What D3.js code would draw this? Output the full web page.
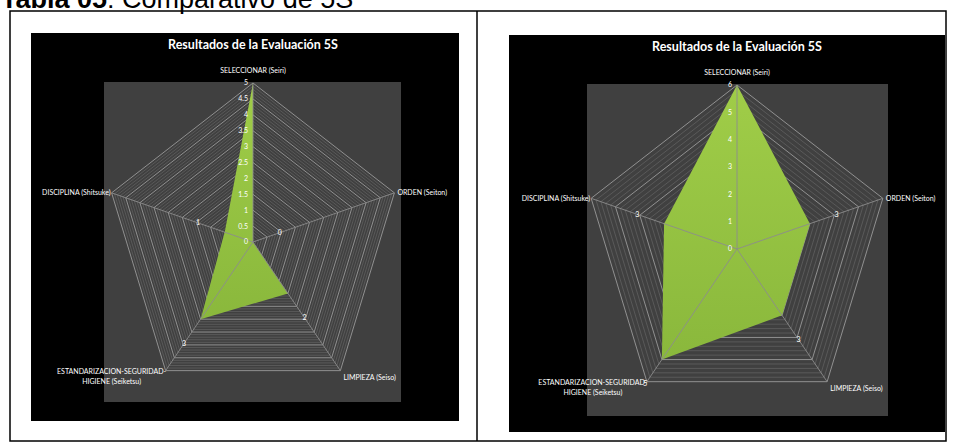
<!DOCTYPE html>
<html>
<head>
<meta charset="utf-8">
<script src="https://cdn.jsdelivr.net/npm/d3@7"></script>
<style>
  html, body { margin: 0; padding: 0; background: #ffffff; }
  svg { display: block; }
</style>
</head>
<body>
<svg id="page" width="954" height="446"></svg>
<script>
// Five 5S categories, clockwise from the top spoke
const categories = [
  "SELECCIONAR (Seiri)",
  "ORDEN (Seiton)",
  "LIMPIEZA (Seiso)",
  "ESTANDARIZACION-SEGURIDAD-HIGIENE (Seiketsu)",
  "DISCIPLINA (Shitsuke)"
];
// Category labels as drawn (line breaks)
const categoryLines = [
  ["SELECCIONAR (Seiri)"],
  ["ORDEN (Seiton)"],
  ["LIMPIEZA (Seiso)"],
  ["ESTANDARIZACION-SEGURIDAD-", "HIGIENE (Seiketsu)"],
  ["DISCIPLINA (Shitsuke)"]
];

// Scores of the first evaluation and of the second one
const valuesFirst = [5, 0, 2, 3, 1];
const valuesSecond = [6, 3, 3, 5, 3];

// Radial axis tick labels
const ticksFirst = [0, 0.5, 1, 1.5, 2, 2.5, 3, 3.5, 4, 4.5, 5];
const ticksSecond = [0, 1, 2, 3, 4, 5, 6];

const chartTitle = "Resultados de la Evaluación 5S";
const captionBold = "Tabla 05";
const captionRest = ": Comparativo de 5S";

const svg = d3.select("#page");
const smallFont = "Lato, 'Open Sans', sans-serif";

// Caption above the table
const cap = svg.append("text")
  .attr("x", 1).attr("y", 8)
  .attr("font-family", "'Liberation Sans', Arial, sans-serif")
  .attr("font-size", 27)
  .attr("fill", "#000");
cap.append("tspan").attr("font-weight", "bold").text(captionBold);
cap.append("tspan").text(captionRest);

// Table frame with two cells
const table = svg.append("g").attr("fill", "none").attr("stroke", "#000").attr("stroke-width", 1.5);
table.append("rect").attr("x", 10).attr("y", 11).attr("width", 936).attr("height", 430);
table.append("line").attr("x1", 477).attr("x2", 477).attr("y1", 11).attr("y2", 441);

// Green fill gradient
const defs = svg.append("defs");
const grad = defs.append("linearGradient").attr("id", "greenFill")
  .attr("x1", 0).attr("y1", 0).attr("x2", 0).attr("y2", 1);
grad.append("stop").attr("offset", "0%").attr("stop-color", "#a0cd48");
grad.append("stop").attr("offset", "100%").attr("stop-color", "#8ab83c");

function drawRadar(cfg) {
  const g = svg.append("g");
  const n = categories.length;
  const maxV = d3.max(cfg.ticks);

  // chart background and plot area
  g.append("rect").attr("x", cfg.box[0]).attr("y", cfg.box[1])
    .attr("width", cfg.box[2]).attr("height", cfg.box[3]).attr("fill", "#000");
  g.append("rect").attr("x", cfg.plot[0]).attr("y", cfg.plot[1])
    .attr("width", cfg.plot[2]).attr("height", cfg.plot[3]).attr("fill", "#404040");

  // title
  g.append("text")
    .attr("x", cfg.cx).attr("y", cfg.box[1] + 16)
    .attr("text-anchor", "middle")
    .attr("font-family", smallFont)
    .attr("font-weight", "bold")
    .attr("font-size", 12.5)
    .attr("fill", "#fff")
    .text(chartTitle);

  const r = d3.scaleLinear().domain([0, maxV]).range([0, cfg.radius]);
  const angle = d3.scalePoint().domain(d3.range(n + 1)).range([0, 2 * Math.PI]);
  const point = (i, v) => {
    const a = angle(i % n);
    return [cfg.cx + r(v) * Math.sin(a) * cfg.sx, cfg.cy - r(v) * Math.cos(a)];
  };
  const line = d3.line();

  // minor and major gridlines
  const minorLevels = d3.range(0, maxV + 1e-9, cfg.minor).filter(v => v > 0);
  const majorSet = new Set(cfg.ticks.map(t => t.toFixed(3)));
  minorLevels.filter(v => !majorSet.has(v.toFixed(3))).forEach(v => {
    g.append("path")
      .attr("d", line(d3.range(n + 1).map(i => point(i, v))))
      .attr("fill", "none").attr("stroke", "#606060").attr("stroke-width", 0.8);
  });
  cfg.ticks.filter(v => v > 0).forEach(v => {
    g.append("path")
      .attr("d", line(d3.range(n + 1).map(i => point(i, v))))
      .attr("fill", "none").attr("stroke", "#9a9a9a").attr("stroke-width", 0.9);
  });

  // filled series
  g.append("path")
    .attr("d", line(cfg.values.map((v, i) => point(i, v))) + "Z")
    .attr("fill", "url(#greenFill)");

  // spokes
  d3.range(n).forEach(i => {
    const [x, y] = point(i, maxV);
    g.append("line").attr("x1", cfg.cx).attr("y1", cfg.cy).attr("x2", x).attr("y2", y)
      .attr("stroke", "#8c8c8c").attr("stroke-width", 0.9);
  });

  // radial tick labels along the top spoke
  g.selectAll(null).data(cfg.ticks).join("text")
    .attr("x", cfg.cx - 5)
    .attr("y", d => point(0, d)[1])
    .attr("dy", "0.35em")
    .attr("text-anchor", "end")
    .attr("font-family", smallFont)
    .attr("font-size", 7)
    .attr("fill", "#fff")
    .text(d => d);

  // category labels
  const placement = [
    { anchor: "middle", dx: 0, dy: -12 },
    { anchor: "start", dx: 3, dy: 0 },
    { anchor: "start", dx: 3, dy: 7 },
    { anchor: "middle", dx: -54, dy: 1 },
    { anchor: "end", dx: -1, dy: 0 }
  ];
  categoryLines.forEach((lines, i) => {
    const [x, y] = point(i, maxV);
    const p = placement[i];
    lines.forEach((t, k) => {
      g.append("text")
        .attr("x", x + p.dx).attr("y", y + p.dy + k * 10)
        .attr("dy", "0.35em")
        .attr("text-anchor", p.anchor)
        .attr("font-family", smallFont)
        .attr("font-size", 7)
        .attr("fill", "#fff")
        .text(t);
    });
  });

  // data labels, set a little beyond each point along its spoke
  cfg.values.forEach((v, i) => {
    if (v >= maxV) return;
    const a = angle(i);
    const rr = r(v) + 30;
    g.append("text")
      .attr("x", cfg.cx + rr * Math.sin(a) * cfg.sx)
      .attr("y", cfg.cy - rr * Math.cos(a))
      .attr("dy", "0.35em")
      .attr("text-anchor", "middle")
      .attr("font-family", smallFont)
      .attr("font-size", 7)
      .attr("fill", "#fff")
      .text(v);
  });
}

drawRadar({
  values: valuesFirst, ticks: ticksFirst, minor: 0.1,
  box: [31, 33, 428, 388], plot: [104, 82, 297, 320],
  cx: 253, cy: 242, radius: 159, sx: 0.935
});
drawRadar({
  values: valuesSecond, ticks: ticksSecond, minor: 0.2,
  box: [509, 35, 436, 397], plot: [587, 84, 301, 332],
  cx: 737, cy: 249, radius: 164, sx: 0.935
});
</script>
</body>
</html>
